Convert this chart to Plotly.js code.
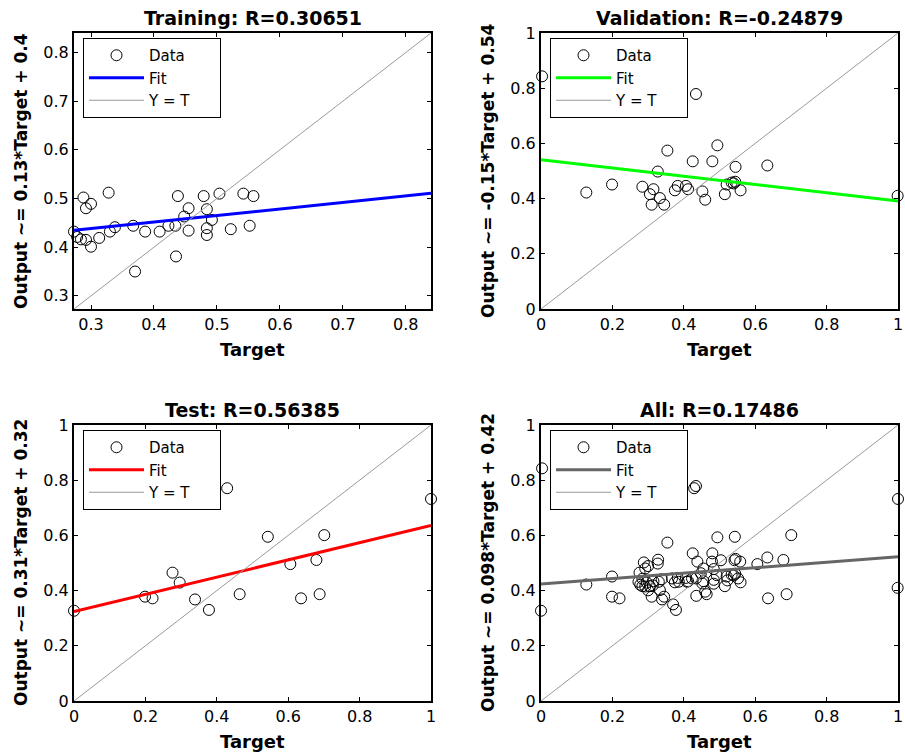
<!DOCTYPE html>
<html>
<head>
<meta charset="utf-8">
<script src="https://cdn.plot.ly/plotly-3.0.1.min.js"></script>
<style>html,body{margin:0;padding:0;background:#fff;}#chart{width:905px;height:755px;}</style>
</head>
<body>
<div id="chart"></div>
<script>
// ---------- data ----------
const panelNames = ["Training", "Validation", "Test", "All"];
const panelR = ["0.30651", "-0.24879", "0.56385", "0.17486"];
const fitLabels = ["0.13*Target + 0.4", "-0.15*Target + 0.54", "0.31*Target + 0.32", "0.098*Target + 0.42"];
const legendNames = ["Data", "Fit", "Y = T"];

const trainTarget = [0.273,0.278,0.284,0.288,0.292,0.300,0.292,0.300,0.313,0.328,0.330,0.338,0.367,0.370,0.386,0.409,0.423,0.434,0.438,0.435,0.448,0.455,0.455,0.479,0.484,0.484,0.484,0.492,0.504,0.522,0.542,0.558,0.552];
const trainOutput = [0.432,0.421,0.416,0.502,0.480,0.489,0.415,0.401,0.419,0.512,0.432,0.441,0.444,0.350,0.432,0.432,0.444,0.444,0.505,0.381,0.463,0.480,0.434,0.505,0.478,0.439,0.425,0.456,0.510,0.437,0.510,0.505,0.444];

const valTarget = [0.003,0.127,0.199,0.284,0.315,0.305,0.333,0.310,0.345,0.327,0.354,0.375,0.383,0.406,0.412,0.425,0.434,0.452,0.460,0.480,0.494,0.515,0.520,0.534,0.544,0.540,0.545,0.559,0.634,0.999];
const valOutput = [0.843,0.422,0.451,0.443,0.434,0.416,0.402,0.378,0.378,0.498,0.574,0.430,0.446,0.446,0.434,0.535,0.779,0.426,0.396,0.535,0.593,0.416,0.451,0.458,0.461,0.455,0.515,0.430,0.520,0.410];

const testTarget = [0.000,0.199,0.220,0.276,0.296,0.339,0.378,0.429,0.464,0.543,0.606,0.636,0.679,0.688,0.701,1.000];
const testOutput = [0.327,0.378,0.372,0.465,0.429,0.368,0.330,0.771,0.387,0.595,0.496,0.372,0.511,0.387,0.601,0.732];

const allTarget = trainTarget.concat(valTarget, testTarget);
const allOutput = trainOutput.concat(valOutput, testOutput);

// fit coefficients [slope, intercept]
const trainFit = [0.134, 0.398];
const valFit = [-0.150, 0.541];
const testFit = [0.312, 0.324];
const allFit = [0.0985, 0.424];

// axis limits
const trainRange = [0.273, 0.840];
const valRange = [0, 1];
const testRange = [0, 1];
const allRange = [0, 1];

const fitColors = ["#0000ff", "#00ff00", "#ff0000", "#666666"];

// ---------- layout helpers ----------
const W = 905, H = 755;
const fx = p => p / W;
const fy = p => 1 - p / H;
const colX = [[74, 431], [541, 898]];
const rowY = [[33, 309], [425, 701]];

const panels = [
  {t: trainTarget, o: trainOutput, fit: trainFit, range: trainRange, dtick: 0.1, col: 0, row: 0},
  {t: valTarget, o: valOutput, fit: valFit, range: valRange, dtick: 0.2, col: 1, row: 0},
  {t: testTarget, o: testOutput, fit: testFit, range: testRange, dtick: 0.2, col: 0, row: 1},
  {t: allTarget, o: allOutput, fit: allFit, range: allRange, dtick: 0.2, col: 1, row: 1}
];

const FONT = "DejaVu Sans, Arial, sans-serif";
const PAD = "\u00a0\u00a0\u00a0\u00a0\u00a0";
const traces = [];
const layout = {
  width: W, height: H,
  margin: {l: 0, r: 0, t: 0, b: 0},
  paper_bgcolor: "#ffffff", plot_bgcolor: "#ffffff",
  font: {family: FONT, size: 16, color: "#000"},
  showlegend: true,
  annotations: []
};

panels.forEach((p, i) => {
  const n = i + 1;
  const xa = n === 1 ? "x" : "x" + n;
  const ya = n === 1 ? "y" : "y" + n;
  const lg = n === 1 ? "legend" : "legend" + n;
  const lo = p.range[0], hi = p.range[1];

  traces.push({
    type: "scatter", mode: "markers", name: legendNames[0],
    x: p.t, y: p.o, xaxis: xa, yaxis: ya, legend: lg,
    cliponaxis: false,
    marker: {symbol: "circle-open", size: 11, color: "#000", line: {width: 1, color: "#000"}},
    hoverinfo: "x+y"
  });
  traces.push({
    type: "scatter", mode: "lines", name: legendNames[1],
    x: [lo, hi], y: [p.fit[0] * lo + p.fit[1], p.fit[0] * hi + p.fit[1]],
    xaxis: xa, yaxis: ya, legend: lg,
    line: {color: fitColors[i], width: 3}
  });
  traces.push({
    type: "scatter", mode: "lines", name: legendNames[2] + PAD,
    x: [lo, hi], y: [lo, hi], xaxis: xa, yaxis: ya, legend: lg,
    line: {color: "#9a9a9a", width: 1}
  });

  const xd = [fx(colX[p.col][0]), fx(colX[p.col][1])];
  const yd = [fy(rowY[p.row][1]), fy(rowY[p.row][0])];
  const axCommon = {
    range: [lo, hi], dtick: p.dtick, tick0: 0,
    showgrid: false, zeroline: false,
    showline: true, linecolor: "#000", linewidth: 2, mirror: "ticks",
    ticks: "inside", ticklen: 4, tickwidth: 1, tickcolor: "#000",
    ticklabeloverflow: "allow",
    tickfont: {family: FONT, size: 16, color: "#000"}
  };
  layout["xaxis" + (n === 1 ? "" : n)] = Object.assign({}, axCommon, {domain: xd, anchor: ya});
  layout["yaxis" + (n === 1 ? "" : n)] = Object.assign({}, axCommon, {domain: yd, anchor: xa});

  const left = colX[p.col][0], right = colX[p.col][1];
  const top = rowY[p.row][0], bottom = rowY[p.row][1];
  const cx = (left + right) / 2;

  layout[lg] = {
    x: fx(left + 9), y: fy(top + 5), xanchor: "left", yanchor: "top",
    bgcolor: "#fff", bordercolor: "#000", borderwidth: 1,
    font: {family: FONT, size: 15, color: "#000"},
    itemwidth: 55, tracegroupgap: 0, traceorder: "normal"
  };

  // title
  layout.annotations.push({
    xref: "paper", yref: "paper", x: fx(cx), y: fy(top - 15),
    xanchor: "center", yanchor: "middle", showarrow: false,
    text: "<b>" + panelNames[i] + ": R=" + panelR[i] + "</b>",
    font: {family: FONT, size: 19, color: "#000"}
  });
  // x label
  layout.annotations.push({
    xref: "paper", yref: "paper", x: fx(cx), y: fy(bottom + 40),
    xanchor: "center", yanchor: "middle", showarrow: false,
    text: "<b>Target</b>",
    font: {family: FONT, size: 18, color: "#000"}
  });
  // y label
  layout.annotations.push({
    xref: "paper", yref: "paper", x: fx(left - 53), y: fy((top + bottom) / 2),
    xanchor: "center", yanchor: "middle", showarrow: false, textangle: -90,
    text: "<b>Output ~= " + fitLabels[i] + "</b>",
    font: {family: FONT, size: 17, color: "#000"}
  });
});

Plotly.newPlot("chart", traces, layout, {displayModeBar: false, staticPlot: true});
</script>
</body>
</html>
